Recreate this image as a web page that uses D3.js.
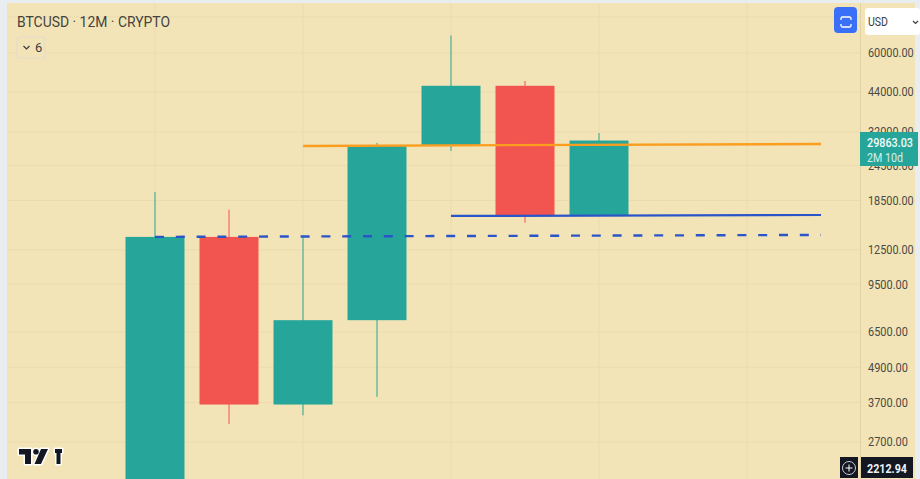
<!DOCTYPE html>
<html><head><meta charset="utf-8">
<script src="https://cdn.jsdelivr.net/npm/d3@7"></script>
<style>
html,body{margin:0;padding:0;background:#e8edf0;overflow:hidden}
svg{display:block}
text{font-family:Roboto,"Liberation Sans",sans-serif}
</style></head><body><svg id="c" width="920" height="479"></svg>
<script>
const years=[2017,2018,2019,2020,2021,2022,2023];
const opens=[963,13850,3640,7130,28800,46200,16450];
const highs=[19800,17200,13850,29300,69000,48000,31700];
const lows=[775,3120,3340,3870,27480,15500,16450];
const closes=[13850,3640,7130,28700,46200,16450,29863.03];
const priceTicks=[60000,44000,32000,24500,18500,12500,9500,6500,4900,3700,2700];
const hiddenGrid=[80000];
const xGridYears=[2017,2019,2021,2023,2025];
const orangeLine=[[2019,28600],[2026,29050]];
const blueLine=[[2021,16370],[2026,16490]];
const dashedLine=[[2017,13850],[2026,14070]];
const lastPrice="29863.03", countdown="2M 10d", lowPrice="2212.94";
const title="BTCUSD · 12M · CRYPTO";

const svg=d3.select("#c");
const paper="#f3e4b7",grid="#ebdcae",up="#26a69a",down="#f2544f";
const plotL=7,plotT=3,plotR=860,axisR=915,H=479;
const x=d3.scaleLinear().domain([2017,2026]).range([155,821]);
const y=d3.scaleLog().domain([60000,2700]).range([53,442]);
const bw=59;

svg.append("rect").attr("x",plotL).attr("y",plotT).attr("width",axisR-plotL).attr("height",H-plotT).attr("fill",paper);
svg.append("defs").append("clipPath").attr("id","p").append("rect").attr("x",plotL).attr("y",plotT).attr("width",plotR-plotL).attr("height",H-plotT);

const g=svg.append("g").attr("clip-path","url(#p)");
g.append("g").selectAll("line").data(priceTicks.concat(hiddenGrid)).join("line")
 .attr("x1",plotL).attr("x2",plotR).attr("y1",d=>y(d)).attr("y2",d=>y(d)).attr("stroke",grid);
g.append("g").selectAll("line").data(xGridYears).join("line")
 .attr("x1",d=>x(d)).attr("x2",d=>x(d)).attr("y1",plotT).attr("y2",H).attr("stroke",grid);

const candles=g.append("g").selectAll("g").data(years.map((t,i)=>({t,o:opens[i],h:highs[i],l:lows[i],c:closes[i]}))).join("g");
candles.append("line").attr("x1",d=>x(d.t)).attr("x2",d=>x(d.t)).attr("y1",d=>y(d.h)).attr("y2",d=>y(d.l))
 .attr("stroke",d=>d.c>=d.o?up:down).attr("stroke-width",1);
candles.append("rect").attr("x",d=>x(d.t)-bw/2).attr("width",bw)
 .attr("y",d=>y(Math.max(d.o,d.c))).attr("height",d=>Math.abs(y(d.o)-y(d.c)))
 .attr("fill",d=>d.c>=d.o?up:down);

const ln=d3.line().x(d=>x(d[0])).y(d=>y(d[1]));
g.append("path").attr("d",ln(dashedLine)).attr("fill","none").attr("stroke","#2a55c9").attr("stroke-width",2.4).attr("stroke-dasharray","9 11.8");
g.append("path").attr("d",ln(blueLine)).attr("fill","none").attr("stroke","#2a55c9").attr("stroke-width",2.2);
g.append("path").attr("d",ln(orangeLine)).attr("fill","none").attr("stroke","#fb9d1f").attr("stroke-width",2.4);

// price axis
const ax=svg.append("g").attr("transform",`translate(${plotR},0)`)
 .call(d3.axisRight(y).tickValues(priceTicks).tickFormat(d=>d3.format(".2f")(d)).tickSize(0).tickPadding(8));
ax.select(".domain").attr("stroke","#e2d3a6").attr("d",`M0.5,${plotT}V${H}`);
ax.selectAll("text").attr("font-size",12.4).attr("fill","#4a4a44")
 .attr("textLength",d=>d3.format(".2f")(d).length*5.7).attr("lengthAdjust","spacingAndGlyphs");

// last price tag
svg.append("rect").attr("x",860).attr("y",132).attr("width",58).attr("height",34).attr("fill",up);
svg.append("text").attr("x",867).attr("y",146.5).attr("font-size",12.4).attr("font-weight",500).attr("fill","#f3fbf8").attr("textLength",46).attr("lengthAdjust","spacingAndGlyphs").text(lastPrice);
svg.append("text").attr("x",867).attr("y",161.5).attr("font-size",12.4).attr("fill","#d6f0e8").attr("textLength",36).attr("lengthAdjust","spacingAndGlyphs").text(countdown);

// lower price tag and plus button
svg.append("rect").attr("x",840).attr("y",457).attr("width",18).attr("height",21).attr("fill","#131722");
svg.append("circle").attr("cx",849).attr("cy",468).attr("r",6.5).attr("fill","none").attr("stroke","#c8ccd4");
svg.append("path").attr("d","M845.5,468H852.5M849,464.5V471.5").attr("stroke","#fff").attr("fill","none");
svg.append("rect").attr("x",861).attr("y",457).attr("width",52).attr("height",21).attr("fill","#131722");
svg.append("text").attr("x",867).attr("y",472.5).attr("font-size",13).attr("font-weight",700).attr("fill","#f0f3fa").attr("textLength",40).attr("lengthAdjust","spacingAndGlyphs").text(lowPrice);

// top-right controls
svg.append("rect").attr("x",834).attr("y",7).attr("width",23).attr("height",26).attr("rx",4).attr("fill","#3a6ff7");
svg.append("path").attr("d","M841,20V18.5a1.5,1.5 0 0 1 1.5,-1.5H849.5a1.5,1.5 0 0 1 1.5,1.5V20M841,24V25.5a1.5,1.5 0 0 0 1.5,1.5H849.5a1.5,1.5 0 0 0 1.5,-1.5V24").attr("fill","none").attr("stroke","#fff").attr("stroke-width",1.3);
svg.append("rect").attr("x",865).attr("y",8).attr("width",55).attr("height",27).attr("rx",3).attr("fill","#fff");
svg.append("text").attr("x",868).attr("y",26).attr("font-size",13).attr("fill","#3a3d45").attr("textLength",20).attr("lengthAdjust","spacingAndGlyphs").text("USD");
svg.append("path").attr("d","M913,21l2.5,2.5L918,21").attr("fill","none").attr("stroke","#3a3d45").attr("stroke-width",1.2);

// header
svg.append("text").attr("x",17).attr("y",27).attr("font-size",15).attr("fill","#44443f").attr("textLength",153).attr("lengthAdjust","spacingAndGlyphs").text(title);
svg.append("rect").attr("x",17).attr("y",37).attr("width",28).attr("height",21).attr("rx",3).attr("fill",paper).attr("stroke","#e4dccb").attr("stroke-width",1.2);
svg.append("path").attr("d","M23.5,46l3,3l3,-3").attr("fill","none").attr("stroke","#3a3d45").attr("stroke-width",1.2);
svg.append("text").attr("x",35).attr("y",52).attr("font-size",13).attr("fill","#3a3d45").text("6");

// logo
const logo=svg.append("g");
const logoD="M19,449H31V464H25V454.5H19ZM36,449a2.8,2.8 0 1 1 0,5.6a2.8,2.8 0 1 1 0,-5.6ZM41,449H48L41,464H34.5ZM55,449H62V453H60.5V464H56.5V453H55Z";
logo.append("path").attr("d",logoD).attr("fill","#fff").attr("stroke","#fff").attr("stroke-width",3).attr("stroke-linejoin","round");
logo.append("path").attr("d",logoD).attr("fill","#131722");
</script></body></html>
